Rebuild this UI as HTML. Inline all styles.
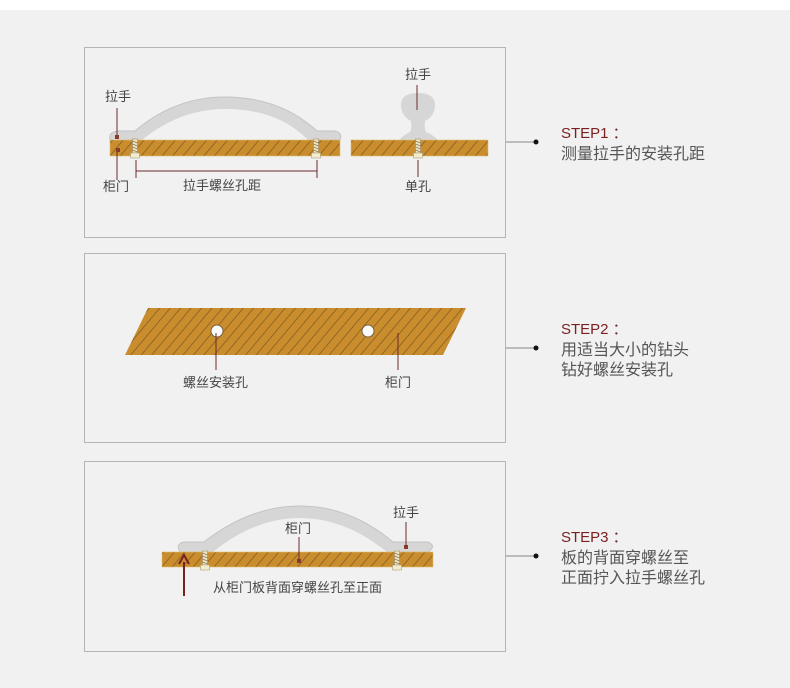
<!DOCTYPE html>
<html><head><meta charset="utf-8"><style>
html,body{margin:0;padding:0;background:#f1f1f1;}
svg{display:block}
text{font-family:"Liberation Sans","Noto Sans CJK SC",sans-serif;}
</style></head><body>
<svg width="790" height="688" viewBox="0 0 790 688" xmlns="http://www.w3.org/2000/svg">
<defs>
<pattern id="h" patternUnits="userSpaceOnUse" width="8" height="8" patternTransform="rotate(40)">
<rect width="8" height="8" fill="#c98d2e"/>
<line x1="0" y1="0" x2="0" y2="8" stroke="#6a4a1a" stroke-width="1.4" stroke-opacity="0.8"/>
</pattern>
<g id="screw">
<rect x="-2.5" y="0" width="5" height="14" fill="#efe6c0" stroke="#a09070" stroke-width="0.6"/>
<path d="M-2.5 2 L2.5 4 M-2.5 5 L2.5 7 M-2.5 8 L2.5 10 M-2.5 11 L2.5 13" stroke="#8a7a5a" stroke-width="0.8"/>
<rect x="-4.5" y="14" width="9" height="5" fill="#f3eccc" stroke="#a8a080" stroke-width="0.6"/>
</g>
</defs>
<rect x="0" y="0" width="790" height="10" fill="#fff"/>
<rect x="0" y="10" width="790" height="678" fill="#f1f1f1"/>
<rect x="84.5" y="47.5" width="421" height="190" fill="#f1f1f1" stroke="#b5b5b5"/>
<rect x="84.5" y="253.5" width="421" height="189" fill="#f1f1f1" stroke="#b5b5b5"/>
<rect x="84.5" y="461.5" width="421" height="190" fill="#f1f1f1" stroke="#b5b5b5"/>

<path d="M110 140 Q108 132 118 131 L135 131 Q175 97 225 97 Q280 97 317 131 L335 131 Q343 133 340 140 Z" fill="#d6d6d6" stroke="#c4c4c4"/>
<path d="M142 140 Q180 109 225 109 Q278 109 308 140 Z" fill="#f1f1f1"/>
<rect x="110" y="140" width="230" height="16" fill="url(#h)" stroke="#e0c070" stroke-width="0.6"/>
<use href="#screw" x="135" y="139"/>
<use href="#screw" x="316" y="139"/>
<rect x="115" y="135" width="4" height="4" fill="#8a3a2a"/>
<rect x="116" y="148" width="4" height="4" fill="#8a3a2a"/>
<line x1="117" y1="108" x2="117" y2="135" stroke="#6a2a2a"/>
<line x1="117" y1="152" x2="117" y2="180" stroke="#6a2a2a"/>
<line x1="136" y1="160" x2="136" y2="178" stroke="#6a2a2a"/>
<line x1="317" y1="160" x2="317" y2="178" stroke="#6a2a2a"/>
<line x1="136" y1="171" x2="317" y2="171" stroke="#6a2a2a"/>
<text x="105" y="101" font-size="13" fill="#444">拉手</text>
<text x="103" y="191" font-size="13" fill="#444">柜门</text>
<text x="183" y="190" font-size="13" fill="#444">拉手螺丝孔距</text>
<path d="M398 141 Q405 134 410 132 Q412 128 411 121 Q401 116 401 105 Q401 93 418 93 Q435 93 435 105 Q435 116 425 121 Q424 128 426 132 Q432 134 439 141 Z" fill="#d6d6d6"/>
<rect x="351" y="140" width="137" height="16" fill="url(#h)" stroke="#e0c070" stroke-width="0.6"/>
<use href="#screw" x="418" y="139"/>
<line x1="417" y1="85" x2="417" y2="110" stroke="#6a2a2a"/>
<line x1="418" y1="160" x2="418" y2="177" stroke="#6a2a2a"/>
<text x="405" y="79" font-size="13" fill="#444">拉手</text>
<text x="405" y="191" font-size="13" fill="#444">单孔</text>

<polygon points="148,308 466,308 443,355 125,355" fill="url(#h)"/>
<circle cx="217" cy="331" r="6" fill="#fafafa" stroke="#7a6040" stroke-width="1"/>
<circle cx="368" cy="331" r="6" fill="#fafafa" stroke="#7a6040" stroke-width="1"/>
<line x1="216" y1="333" x2="216" y2="370" stroke="#6a2a2a"/>
<line x1="398" y1="333" x2="398" y2="370" stroke="#6a2a2a"/>
<text x="183" y="387" font-size="13" fill="#444">螺丝安装孔</text>
<text x="385" y="387" font-size="13" fill="#444">柜门</text>

<path d="M180 552 Q175 544 184 542 L204 542 Q250 506 300 506 Q350 506 393 542 L428 542 Q437 546 428 552 Z" fill="#d6d6d6" stroke="#c4c4c4"/>
<path d="M213 552 Q255 518 300 518 Q345 518 387 552 Z" fill="#f1f1f1"/>
<rect x="162" y="552" width="271" height="15" fill="url(#h)" stroke="#e0c070" stroke-width="0.6"/>
<use href="#screw" x="205" y="551"/>
<use href="#screw" x="397" y="551"/>
<rect x="297" y="559" width="4" height="4" fill="#8a3a2a"/>
<line x1="299" y1="537" x2="299" y2="560" stroke="#6a2a2a"/>
<rect x="404" y="545" width="4" height="4" fill="#8a3a2a"/>
<line x1="406" y1="522" x2="406" y2="546" stroke="#6a2a2a"/>
<line x1="184" y1="562" x2="184" y2="596" stroke="#7a1f1f" stroke-width="2"/>
<path d="M179 564 L184 555 L189 564" fill="none" stroke="#7a1f1f" stroke-width="2"/>
<text x="285" y="533" font-size="13" fill="#444">柜门</text>
<text x="393" y="517" font-size="13" fill="#444">拉手</text>
<text x="213" y="592" font-size="13" fill="#444">从柜门板背面穿螺丝孔至正面</text>

<line x1="506" y1="142" x2="536" y2="142" stroke="#888"/><circle cx="536" cy="142" r="2.5" fill="#111"/>
<line x1="506" y1="348" x2="536" y2="348" stroke="#888"/><circle cx="536" cy="348" r="2.5" fill="#111"/>
<line x1="506" y1="556" x2="536" y2="556" stroke="#888"/><circle cx="536" cy="556" r="2.5" fill="#111"/>
<text x="561" y="138" font-size="15" fill="#7a1f1f">STEP1 ：</text>
<text x="561" y="159" font-size="16" fill="#555">测量拉手的安装孔距</text>
<text x="561" y="334" font-size="15" fill="#7a1f1f">STEP2 ：</text>
<text x="561" y="355" font-size="16" fill="#555">用适当大小的钻头</text>
<text x="561" y="375" font-size="16" fill="#555">钻好螺丝安装孔</text>
<text x="561" y="542" font-size="15" fill="#7a1f1f">STEP3 ：</text>
<text x="561" y="563" font-size="16" fill="#555">板的背面穿螺丝至</text>
<text x="561" y="583" font-size="16" fill="#555">正面拧入拉手螺丝孔</text>
</svg>
</body></html>
